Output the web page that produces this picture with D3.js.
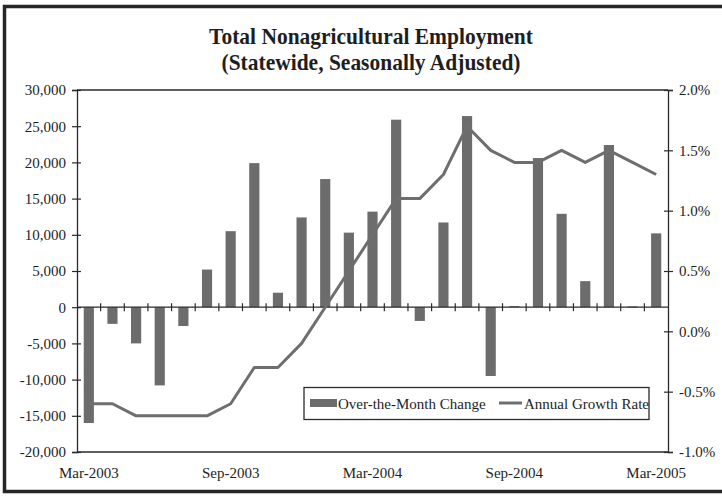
<!DOCTYPE html>
<html>
<head>
<meta charset="utf-8">
<script src="https://cdn.jsdelivr.net/npm/d3@7/dist/d3.min.js"></script>
<style>
  html, body { margin: 0; padding: 0; background: #ffffff; }
  svg { display: block; }
  text { font-family: "Liberation Serif", "Times New Roman", serif; fill: #1e1e1e; }
</style>
</head>
<body>
<svg id="chart" width="722" height="496"></svg>
<script>
// ---- data ----
const months = ["Mar-2003","Apr-2003","May-2003","Jun-2003","Jul-2003","Aug-2003","Sep-2003","Oct-2003","Nov-2003","Dec-2003","Jan-2004","Feb-2004","Mar-2004","Apr-2004","May-2004","Jun-2004","Jul-2004","Aug-2004","Sep-2004","Oct-2004","Nov-2004","Dec-2004","Jan-2005","Feb-2005","Mar-2005"];
const overMonthChange = [-16000,-2300,-5000,-10800,-2600,5200,10500,19900,2000,12400,17700,10300,13200,25900,-1900,11700,26400,-9500,150,20600,12900,3600,22400,100,10200];
const annualGrowth = [-0.006,-0.006,-0.007,-0.007,-0.007,-0.007,-0.006,-0.003,-0.003,-0.001,0.002,0.005,0.008,0.011,0.011,0.013,0.017,0.015,0.014,0.014,0.015,0.014,0.015,0.014,0.013];
const xTickLabels = ["Mar-2003","Sep-2003","Mar-2004","Sep-2004","Mar-2005"];
const leftTicks = [-20000,-15000,-10000,-5000,0,5000,10000,15000,20000,25000,30000];
const rightTicks = [-0.01,-0.005,0,0.005,0.01,0.015,0.02];
const titleLines = ["Total Nonagricultural Employment","(Statewide, Seasonally Adjusted)"];
const legendLabels = ["Over-the-Month Change","Annual Growth Rate"];

// ---- layout ----
const svg = d3.select("#chart");
const L = 77, R = 668, T = 90, B = 452;
const barColor = "#6c6c6c", lineColor = "#6e6e6e", ink = "#2a2a2a";

const x = d3.scaleBand().domain(months).range([L, R]).padding(0);
const yL = d3.scaleLinear().domain([-20000, 30000]).range([B, T]);
const yR = d3.scaleLinear().domain([-0.01, 0.02]).range([B, T]);
const barW = x.bandwidth() * 0.43;
const minusFix = s => s.replace("\u2212", "-");

// outer frame
svg.append("rect").attr("x", 4.5).attr("y", 6.5).attr("width", 760).attr("height", 485)
  .attr("fill", "none").attr("stroke", "#262626").attr("stroke-width", 3.5);

// title
svg.append("g").selectAll("text").data(titleLines).join("text")
  .attr("transform", (d, i) => `translate(371,${44 + i * 25.5}) scale(1,1.12)`)
  .attr("text-anchor", "middle").attr("font-size", 21.5).attr("font-weight", "bold")
  .text(d => d);

// plot frame top & bottom
svg.append("line").attr("x1", L).attr("x2", R).attr("y1", T).attr("y2", T).attr("stroke", ink).attr("stroke-width", 1.3);
svg.append("line").attr("x1", L).attr("x2", R).attr("y1", B).attr("y2", B).attr("stroke", ink).attr("stroke-width", 1.3);

// left axis
const gL = svg.append("g").attr("transform", `translate(${L},0)`)
  .call(d3.axisLeft(yL).tickValues(leftTicks).tickSize(5).tickPadding(6).tickFormat(d => minusFix(d3.format(",")(d))));
gL.selectAll(".tick line").attr("x1", 4).attr("x2", -5);
gL.selectAll("text").attr("font-size", 15).attr("font-family", "Liberation Serif");

// right axis
const gR = svg.append("g").attr("transform", `translate(${R},0)`)
  .call(d3.axisRight(yR).tickValues(rightTicks).tickSize(5).tickPadding(6).tickFormat(d => minusFix(d3.format(".1%")(d))));
gR.selectAll(".tick line").attr("x1", -4).attr("x2", 5);
gR.selectAll("text").attr("font-size", 15).attr("font-family", "Liberation Serif");

[gL, gR].forEach(g => {
  g.select(".domain").attr("stroke", ink).attr("stroke-width", 1.3);
  g.selectAll(".tick line").attr("stroke", ink).attr("stroke-width", 1.2);
  g.selectAll("text").attr("fill", "#1e1e1e");
});

// bottom labels
const gB = svg.append("g").attr("transform", `translate(0,${B})`)
  .call(d3.axisBottom(x).tickValues(xTickLabels).tickSize(0).tickPadding(15));
gB.select(".domain").remove();
gB.selectAll("text").attr("font-size", 15).attr("font-family", "Liberation Serif").attr("fill", "#1e1e1e");

// bars
svg.append("g").selectAll("rect").data(months).join("rect")
  .attr("x", (d) => x(d) + x.bandwidth() / 2 - barW / 2)
  .attr("width", barW)
  .attr("y", (d, i) => Math.min(yL(overMonthChange[i]), yL(0)))
  .attr("height", (d, i) => Math.max(1, Math.abs(yL(overMonthChange[i]) - yL(0))))
  .attr("fill", barColor);

// zero line with category ticks
const y0 = yL(0);
svg.append("line").attr("x1", L).attr("x2", R).attr("y1", y0).attr("y2", y0).attr("stroke", ink).attr("stroke-width", 1.3);
const bounds = months.slice(1).map(m => x(m));
svg.append("g").selectAll("line").data(bounds).join("line")
  .attr("x1", d => d).attr("x2", d => d).attr("y1", y0 - 4).attr("y2", y0 + 4)
  .attr("stroke", ink).attr("stroke-width", 1.2);

// growth line
const line = d3.line().x((d, i) => x(months[i]) + x.bandwidth() / 2).y(d => yR(d));
svg.append("path").datum(annualGrowth).attr("d", line)
  .attr("fill", "none").attr("stroke", lineColor).attr("stroke-width", 3).attr("stroke-linejoin", "round");

// legend
const lg = svg.append("g");
lg.append("rect").attr("x", 304).attr("y", 387.5).attr("width", 345).attr("height", 32)
  .attr("fill", "#ffffff").attr("stroke", ink).attr("stroke-width", 1.3);
lg.append("rect").attr("x", 310).attr("y", 399).attr("width", 27).attr("height", 8).attr("fill", barColor);
lg.append("text").attr("x", 338).attr("y", 409).attr("font-size", 15).text(legendLabels[0]);
lg.append("line").attr("x1", 499).attr("x2", 522).attr("y1", 403).attr("y2", 403).attr("stroke", lineColor).attr("stroke-width", 3);
lg.append("text").attr("x", 524).attr("y", 409).attr("font-size", 15).text(legendLabels[1]);
</script>
</body>
</html>
